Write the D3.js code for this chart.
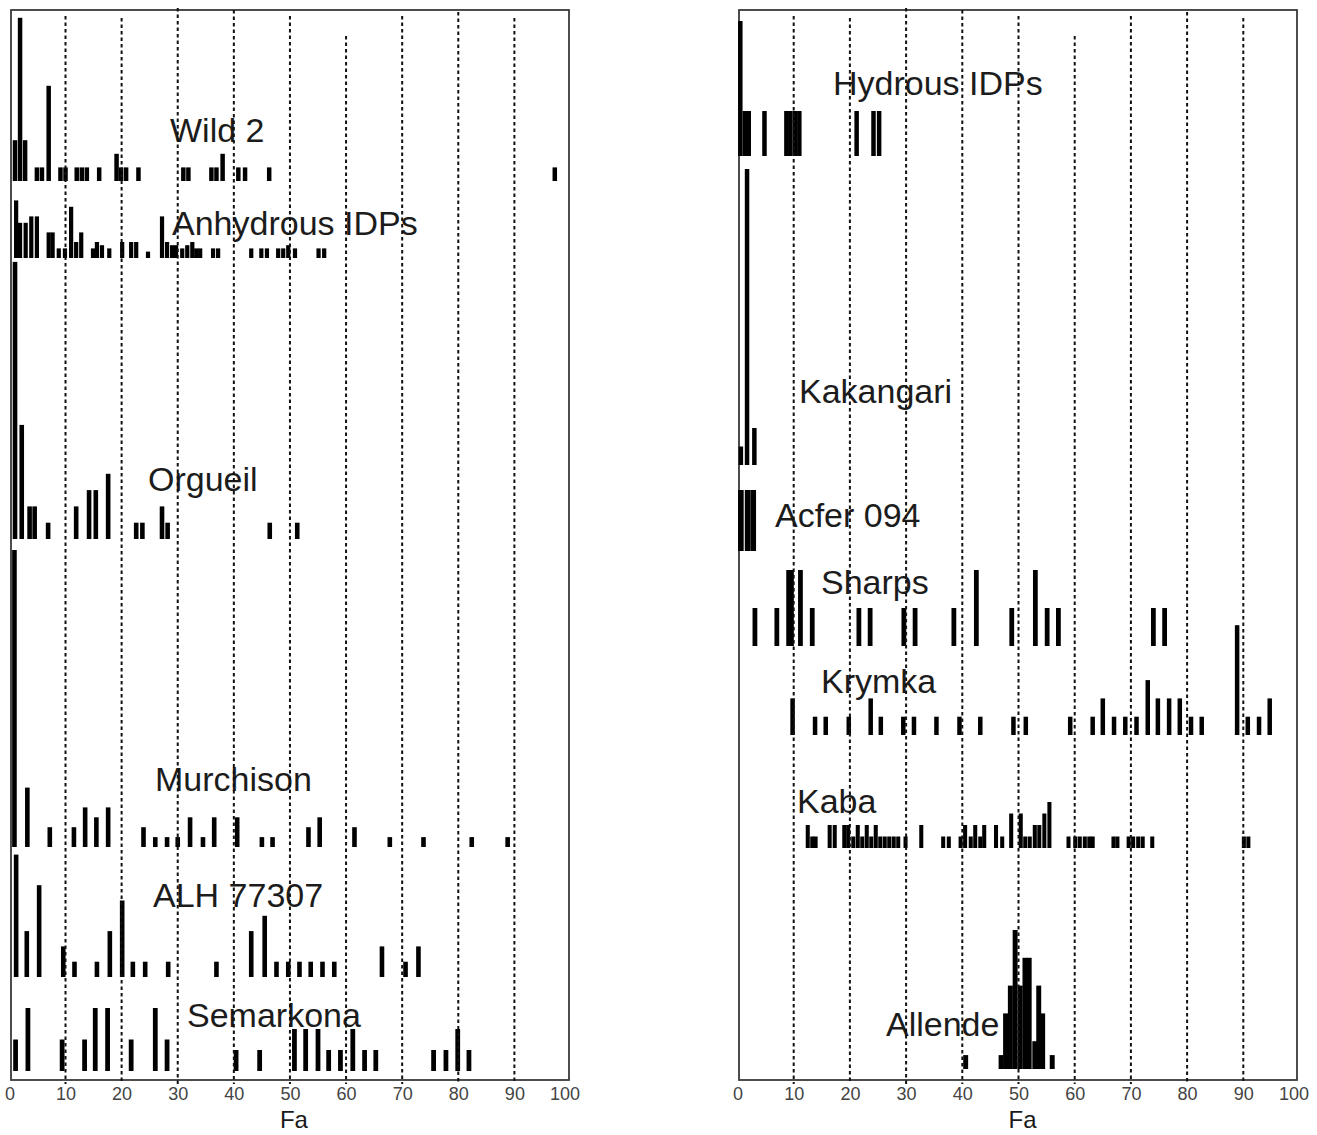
<!DOCTYPE html>
<html lang="en">
<head>
<meta charset="utf-8">
<title>Fa histograms</title>
<script src="https://cdn.jsdelivr.net/npm/d3@7"></script>
<style>
body { margin: 0; background: #fff; }
text { font-family: "Liberation Sans", Arial, sans-serif; }
</style>
</head>
<body>
<script>
// ---- data: Fa position of each bar and its height (counts) ----
var ticks = [0, 10, 20, 30, 40, 50, 60, 70, 80, 90, 100];
var gridTicks = [10, 20, 30, 40, 50, 60, 70, 80, 90];

// left column
var wild2Fa = [1.0, 1.9, 2.8, 4.9, 5.8, 7.0, 9.1, 10.0, 12.0, 12.9, 13.8, 16.0, 19.1, 19.9, 20.8, 23.0, 31.0, 31.9, 36.0, 36.9, 38.0, 40.8, 42.0, 46.3, 97.2];
var wild2N  = [3, 12, 3, 1, 1, 7, 1, 1, 1, 1, 1, 1, 2, 1, 1, 1, 1, 1, 1, 1, 2, 1, 1, 1, 1];

var anhFa = [1.2, 1.9, 2.9, 3.9, 4.9, 7.0, 7.7, 8.8, 9.9, 11.0, 11.9, 12.8, 14.9, 15.6, 16.5, 17.8, 20.1, 21.7, 22.6, 24.7, 27.2, 28.1, 29.0, 29.7, 30.8, 31.7, 32.6, 33.3, 34.0, 36.3, 37.2, 43.1, 44.9, 45.9, 47.9, 48.8, 49.7, 50.9, 55.1, 56.1];
var anhN  = [18, 11, 11, 13, 13, 8, 8, 3, 3, 16, 5, 8, 3, 5, 4, 3, 5, 5, 5, 2, 13, 5, 4, 4, 3, 4, 5, 3, 3, 3, 3, 3, 3, 3, 3, 3, 4, 3, 3, 3];

var orgFa = [1.0, 2.2, 3.6, 4.5, 6.9, 11.9, 14.2, 15.4, 17.6, 22.6, 23.7, 27.2, 28.2, 46.4, 51.3];
var orgN  = [17, 7, 2, 2, 1, 2, 3, 3, 4, 1, 1, 2, 1, 1, 1];

var murFa = [0.9, 3.2, 7.2, 11.5, 13.5, 15.5, 17.6, 23.9, 26.0, 28.1, 30.0, 32.2, 34.5, 36.5, 40.6, 45.0, 46.9, 53.3, 55.3, 61.5, 67.8, 73.8, 82.4, 88.8];
var murN  = [30, 6, 2, 2, 4, 3, 4, 2, 1, 1, 1, 3, 1, 3, 3, 1, 1, 2, 3, 2, 1, 1, 1, 1];

var alhFa = [1.2, 3.1, 5.3, 9.6, 11.6, 15.6, 17.9, 20.1, 22.0, 24.2, 28.3, 36.9, 43.1, 45.5, 47.6, 49.7, 51.7, 53.7, 55.8, 57.9, 66.4, 70.6, 72.9];
var alhN  = [8, 3, 6, 2, 1, 1, 3, 5, 1, 1, 1, 1, 3, 4, 1, 1, 1, 1, 1, 1, 2, 1, 2];

var semFa = [1.1, 3.3, 9.4, 13.4, 15.3, 17.5, 21.7, 26.0, 28.1, 40.4, 44.6, 50.8, 52.8, 55.0, 56.9, 59.0, 61.2, 63.3, 65.3, 75.6, 77.8, 79.9, 81.9];
var semN  = [3, 6, 3, 3, 6, 6, 3, 6, 3, 2, 2, 4, 4, 4, 2, 2, 4, 2, 2, 2, 2, 4, 2];

// right column
var hydFa = [0.5, 1.3, 2.0, 4.8, 8.7, 9.4, 10.2, 11.0, 21.2, 24.2, 25.2];
var hydN  = [3, 1, 1, 1, 1, 1, 1, 1, 1, 1, 1];

var kakFa = [0.6, 1.7, 3.0];
var kakN  = [1, 16, 2];

var acfFa = [0.6, 1.8, 2.8];
var acfN  = [4, 4, 4];

var shaFa = [3.1, 7.0, 9.1, 9.6, 11.2, 13.3, 21.6, 23.6, 29.6, 31.6, 38.5, 42.5, 48.8, 53.0, 55.1, 57.1, 74.0, 76.0];
var shaN  = [1, 1, 2, 2, 2, 1, 1, 1, 1, 1, 1, 2, 1, 2, 1, 1, 1, 1];

var kryFa = [9.8, 13.8, 15.7, 19.8, 23.7, 25.5, 29.5, 31.4, 35.4, 39.5, 43.2, 49.1, 51.3, 59.2, 63.2, 65.0, 67.0, 69.0, 71.0, 73.0, 74.8, 76.8, 78.7, 80.7, 82.6, 88.9, 90.8, 92.8, 94.7];
var kryN  = [2, 1, 1, 1, 2, 1, 1, 1, 1, 1, 1, 1, 1, 1, 1, 2, 1, 1, 1, 3, 2, 2, 2, 1, 1, 6, 1, 1, 2];

var kabFa = [12.5, 13.3, 13.9, 16.4, 17.3, 19.0, 19.7, 20.6, 21.4, 22.2, 23.0, 23.8, 24.6, 25.4, 26.2, 27.0, 27.8, 28.6, 29.9, 32.7, 36.6, 37.6, 39.7, 40.5, 41.5, 42.3, 43.2, 43.9, 46.0, 47.1, 48.7, 50.4, 51.2, 52.0, 52.9, 53.7, 54.6, 55.5, 58.9, 60.1, 60.9, 61.8, 62.6, 63.2, 66.9, 67.6, 69.6, 70.4, 71.3, 72.1, 73.8, 90.1, 90.9];
var kabN  = [2, 1, 1, 2, 2, 2, 2, 1, 2, 1, 2, 1, 2, 1, 1, 1, 1, 1, 1, 2, 1, 1, 1, 2, 1, 2, 1, 2, 2, 1, 3, 3, 1, 1, 2, 2, 3, 4, 1, 1, 1, 1, 1, 1, 1, 1, 1, 1, 1, 1, 1, 1, 1];

var allFa = [40.6, 46.9, 47.7, 48.55, 49.4, 50.3, 51.15, 51.9, 52.9, 53.6, 54.3, 56.0];
var allN  = [1, 1, 4, 6, 10, 6, 8, 8, 2, 6, 4, 1];

var leftSamples = [
    {name: "Wild 2",         fa: wild2Fa, n: wild2N},
    {name: "Anhydrous IDPs", fa: anhFa,   n: anhN},
    {name: "Orgueil",        fa: orgFa,   n: orgN},
    {name: "Murchison",      fa: murFa,   n: murN},
    {name: "ALH 77307",      fa: alhFa,   n: alhN},
    {name: "Semarkona",      fa: semFa,   n: semN}
];
var rightSamples = [
    {name: "Hydrous IDPs", fa: hydFa, n: hydN},
    {name: "Kakangari",    fa: kakFa, n: kakN},
    {name: "Acfer 094",    fa: acfFa, n: acfN},
    {name: "Sharps",       fa: shaFa, n: shaN},
    {name: "Krymka",       fa: kryFa, n: kryN},
    {name: "Kaba",         fa: kabFa, n: kabN},
    {name: "Allende",      fa: allFa, n: allN}
];

// ---- layout (baseline, px per count, bar width in Fa units, label position) ----
var leftRows = [
    {base: 181,  unit: 13.6, bw: 0.8, lx: 170, ly: 142},
    {base: 258,  unit: 3.2,  bw: 0.75, lx: 172, ly: 235},
    {base: 539,  unit: 16.3, bw: 0.82, lx: 148, ly: 491},
    {base: 847,  unit: 9.9,  bw: 0.82, lx: 155, ly: 791},
    {base: 977,  unit: 15.3, bw: 0.82, lx: 153, ly: 907},
    {base: 1071, unit: 10.5, bw: 0.85, lx: 187, ly: 1027}
];
var rightRows = [
    {base: 156,  unit: 45,    bw: 0.8,  lx: 833, ly: 95},
    {base: 465,  unit: 18.5,  bw: 0.8,  lx: 799, ly: 403},
    {base: 551,  unit: 15.25, bw: 1.0,  lx: 775, ly: 527},
    {base: 646,  unit: 38,    bw: 0.85, lx: 821, ly: 594},
    {base: 735,  unit: 18.3,  bw: 0.8,  lx: 821, ly: 693},
    {base: 848,  unit: 11.5,  bw: 0.72, lx: 797, ly: 813},
    {base: 1069, unit: 13.9,  bw: 0.88, lx: 886, ly: 1036}
];
var gridTop = [16, 18, 8, 10, 16, 36, 16, 12, 18];

var width = 1317, height = 1135;
var frameTop = 10, frameBottom = 1080;

var panels = [
    {range: [9.4, 570.5],   frame: [11, 569],   rows: leftRows,  samples: leftSamples},
    {range: [737.5, 1299.5], frame: [739, 1297], rows: rightRows, samples: rightSamples}
];

var svg = d3.select("body").append("svg")
    .attr("width", width)
    .attr("height", height);

panels.forEach(function(p) {
    var x = d3.scaleLinear().domain([0, 100]).range(p.range);
    var g = svg.append("g");

    // frame
    g.append("rect")
        .attr("x", p.frame[0]).attr("y", frameTop)
        .attr("width", p.frame[1] - p.frame[0])
        .attr("height", frameBottom - frameTop)
        .attr("fill", "none")
        .attr("stroke", "#3a3a3a")
        .attr("stroke-width", 1.8);

    // bars, one histogram per row
    p.samples.forEach(function(s, i) {
        var row = p.rows[i];
        var y = d3.scaleLinear().domain([0, 1]).range([row.base, row.base - row.unit]);
        var bars = s.fa.map(function(f, j) { return {fa: f, n: s.n[j]}; });

        g.append("g").selectAll("rect")
            .data(bars)
            .enter()
            .append("rect")
            .attr("x", function(d) { return x(d.fa - row.bw / 2); })
            .attr("width", function(d) { return x(d.fa + row.bw / 2) - x(d.fa - row.bw / 2); })
            .attr("y", function(d) { return y(d.n); })
            .attr("height", function(d) { return y(0) - y(d.n); })
            .attr("fill", "#000");

        g.append("text")
            .attr("x", row.lx)
            .attr("y", row.ly)
            .attr("font-size", "34px")
            .attr("fill", "#1c1c1c")
            .text(s.name);
    });

    // dashed grid lines
    g.append("g").selectAll("line")
        .data(gridTicks)
        .enter()
        .append("line")
        .attr("x1", function(d) { return x(d); })
        .attr("x2", function(d) { return x(d); })
        .attr("y1", function(d, i) { return gridTop[i]; })
        .attr("y2", frameBottom + 4)
        .attr("stroke", "#111")
        .attr("stroke-width", 2)
        .attr("stroke-dasharray", "3.5,3");

    // axis labels
    var axis = g.append("g")
        .attr("transform", "translate(0," + frameBottom + ")")
        .call(d3.axisBottom(x).tickValues(ticks).tickSize(0).tickPadding(7));
    axis.select(".domain").remove();
    axis.selectAll("text")
        .attr("font-size", "18px")
        .attr("font-family", "Liberation Sans, Arial, sans-serif")
        .attr("fill", "#444")
        .attr("dx", function(d) { return d === 100 ? -6 : 0; });

    g.append("text")
        .attr("x", x(50) + 4)
        .attr("y", 1128)
        .attr("text-anchor", "middle")
        .attr("font-size", "24px")
        .attr("fill", "#1a1a1a")
        .text("Fa");
});
</script>
</body>
</html>
